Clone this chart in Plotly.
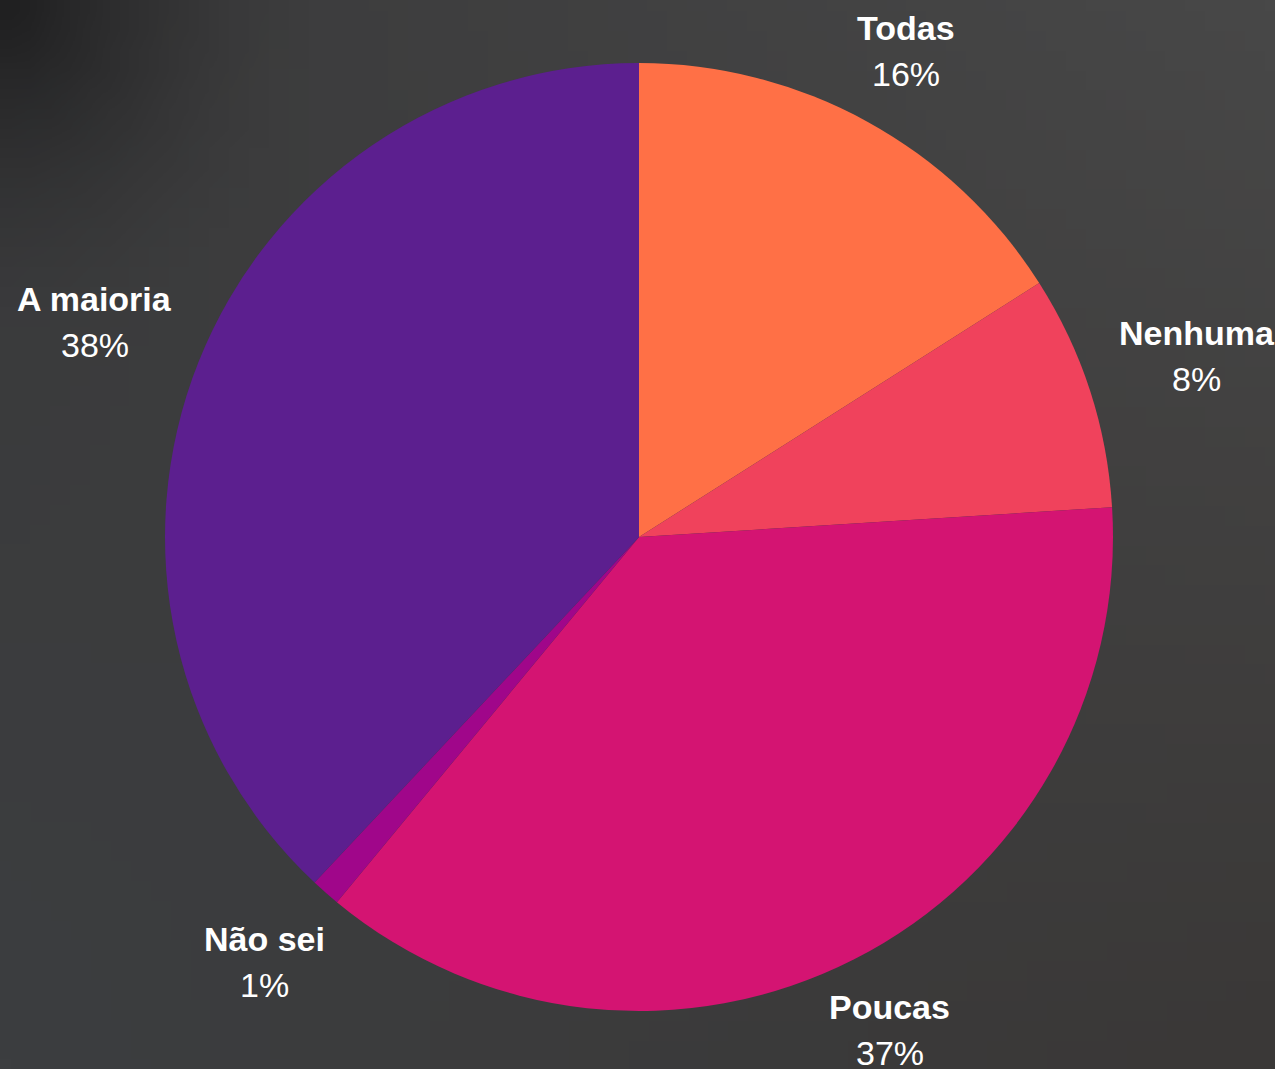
import math
import base64
import struct
import zlib
import plotly.graph_objects as go

# Survey answers and their shares (%)
labels = ["Todas", "Nenhuma", "Poucas", "Não sei", "A maioria"]
values = [16, 8, 37, 1, 38]
colors = ["#FF7046", "#F0425C", "#D41472", "#A0068A", "#5C1F8F"]

W, H = 1275, 1069
CX, CY, R = 639, 537, 474  # pie centre and radius in pixels
FONT = "Liberation Sans, Arial, sans-serif"


def backdrop_png(w=64, h=54):
    """Small dark backdrop: darker top-left corner fading to warm grey."""
    rows = []
    tl, tr, bl, br = (58, 58, 59), (72, 72, 72), (60, 62, 64), (58, 56, 55)
    for j in range(h):
        v = j / (h - 1)
        row = bytearray([0])
        for i in range(w):
            u = i / (w - 1)
            c = [
                (1 - u) * (1 - v) * tl[k] + u * (1 - v) * tr[k]
                + (1 - u) * v * bl[k] + u * v * br[k]
                for k in range(3)
            ]
            d = math.hypot(u * 1.3, v)
            shade = max(0.0, 1 - d / 0.3) ** 1.5 * 26
            row += bytes(max(0, min(255, int(ch - shade))) for ch in c)
        rows.append(bytes(row))
    raw = b"".join(rows)

    def chunk(tag, data):
        return (struct.pack(">I", len(data)) + tag + data
                + struct.pack(">I", zlib.crc32(tag + data) & 0xFFFFFFFF))

    png = (b"\x89PNG\r\n\x1a\n"
           + chunk(b"IHDR", struct.pack(">IIBBBBB", w, h, 8, 2, 0, 0, 0))
           + chunk(b"IDAT", zlib.compress(raw, 9))
           + chunk(b"IEND", b""))
    return "data:image/png;base64," + base64.b64encode(png).decode()


fig = go.Figure(
    go.Pie(
        labels=labels,
        values=values,
        sort=False,
        direction="clockwise",
        rotation=0,
        marker=dict(colors=colors, line=dict(width=0)),
        textinfo="none",
        showlegend=False,
        domain=dict(x=[2 * CX / W - 1, 1], y=[(H - CY - R) / H, (H - CY + R) / H]),
    )
)

# Outside labels: bold name with the percentage underneath, placed along
# each slice's mid-angle
total = sum(values)
cum = 0
annotations = []
for lab, v in zip(labels, values):
    mid = (cum + v / 2) / total * 2 * math.pi
    cum += v
    theta = math.pi / 2 - mid
    c = abs(math.cos(theta))
    rl = R + 48 + 68 * c
    px = CX + rl * math.cos(theta)
    py = CY - rl * math.sin(theta)
    pct = round(v / total * 100)
    annotations.append(dict(
        x=px / W, y=1 - (py - 23) / H, xref="paper", yref="paper",
        text=f"<b>{lab}</b>", showarrow=False, xanchor="center", yanchor="middle",
        font=dict(family=FONT, size=34, color="#FFFFFF"),
    ))
    annotations.append(dict(
        x=px / W, y=1 - (py + 23) / H, xref="paper", yref="paper",
        text=f"{pct}%", showarrow=False, xanchor="center", yanchor="middle",
        font=dict(family=FONT, size=34, color="#FFFFFF"),
    ))

fig.update_layout(
    width=W,
    height=H,
    margin=dict(l=0, r=0, t=0, b=0),
    paper_bgcolor="#3e3f41",
    plot_bgcolor="#3e3f41",
    annotations=annotations,
    images=[dict(
        source=backdrop_png(), xref="paper", yref="paper",
        x=0, y=1, sizex=1, sizey=1, sizing="stretch",
        xanchor="left", yanchor="top", layer="below",
    )],
)

fig.write_html("out.html")
